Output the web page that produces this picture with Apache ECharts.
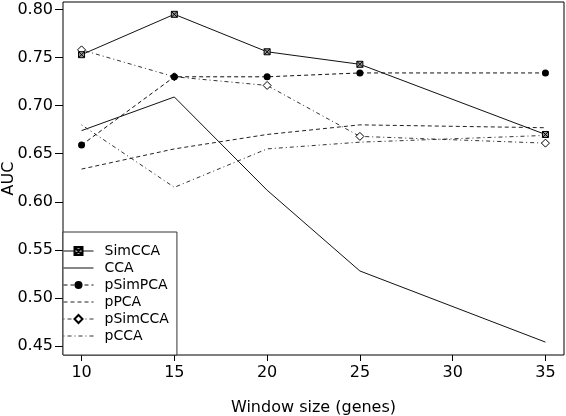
<!DOCTYPE html>
<html>
<head>
<meta charset="utf-8">
<script src="https://cdn.jsdelivr.net/npm/echarts@6/dist/echarts.min.js"></script>
<style>
html,body{margin:0;padding:0;background:#fff;}
#chart{width:566px;height:416px;}
</style>
</head>
<body>
<div id="chart"></div>
<script>
var windowSizes = [10, 15, 20, 25, 35];
var xTicks = [10, 15, 20, 25, 30, 35];
var yTicks = [0.45, 0.50, 0.55, 0.60, 0.65, 0.70, 0.75, 0.80];
var simCCA  = [0.753, 0.795, 0.756, 0.743, 0.670];
var cca     = [0.674, 0.709, 0.612, 0.528, 0.454];
var pSimPCA = [0.659, 0.730, 0.730, 0.734, 0.734];
var pPCA    = [0.634, 0.655, 0.670, 0.680, 0.677];
var pSimCCA = [0.758, 0.730, 0.721, 0.668, 0.661];
var pCCA    = [0.680, 0.615, 0.655, 0.662, 0.669];

function pairs(vals){ return vals.map(function(v,i){ return [windowSizes[i], v]; }); }

var FONT = 'DejaVu Sans';
var dotDash = [1, 3, 4, 3];
var dash = [4, 3];

var chart = echarts.init(document.getElementById('chart'), null, {renderer: 'canvas'});
chart.setOption({
  animation: false,
  backgroundColor: '#fff',
  grid: {left: 63, right: 2, top: 2, bottom: 61, containLabel: false, outerBoundsMode: 'none',
         show: true, borderColor: '#000', borderWidth: 1, backgroundColor: 'transparent'},
  xAxis: {
    type: 'value', min: 9, max: 36,
    name: 'Window size (genes)', nameLocation: 'middle', nameGap: 45, nameMoveOverlap: false,
    nameTextStyle: {fontFamily: FONT, fontSize: 16, color: '#000'},
    axisLine: {show: false},
    splitLine: {show: false},
    axisTick: {show: true, length: 6, lineStyle: {color: '#000'}, customValues: xTicks},
    axisLabel: {fontFamily: FONT, fontSize: 16, color: '#000', margin: 10, customValues: xTicks}
  },
  yAxis: {
    type: 'value', min: 0.4406, max: 0.8078,
    name: 'AUC', nameLocation: 'middle', nameGap: 46, nameMoveOverlap: false,
    nameTextStyle: {fontFamily: FONT, fontSize: 16, color: '#000'},
    axisLine: {show: false},
    splitLine: {show: false},
    axisTick: {show: true, length: 8, lineStyle: {color: '#000'}, customValues: yTicks},
    axisLabel: {fontFamily: FONT, fontSize: 16, color: '#000', margin: 10, customValues: yTicks,
      formatter: function(v){ return v.toFixed(2); }}
  },
  legend: {
    orient: 'vertical', left: 63, bottom: 61,
    padding: [12, 8, 12, 0],
    borderColor: '#333', borderWidth: 1, backgroundColor: '#fff',
    itemWidth: 30, itemHeight: 10, itemGap: 3,
    selectedMode: false,
    lineStyle: {width: 1},
    textStyle: {fontFamily: FONT, fontSize: 14, color: '#000', lineHeight: 14, padding: [0, 0, 0, 6]},
    data: [
      {name: 'SimCCA'},
      {name: 'CCA', itemStyle: {opacity: 0}},
      {name: 'pSimPCA'},
      {name: 'pPCA', itemStyle: {opacity: 0}},
      {name: 'pSimCCA'},
      {name: 'pCCA', itemStyle: {opacity: 0}}
    ]
  },
  series: [
    {name: 'SimCCA', type: 'line', data: pairs(simCCA), z: 4,
     symbol: 'path://M0,0L10,0L10,10L0,10Z M0,0L10,10 M10,0L0,10', symbolSize: 6,
     itemStyle: {color: '#999', borderColor: '#000', borderWidth: 1},
     lineStyle: {color: '#111', width: 1, type: 'solid'}},
    {name: 'CCA', type: 'line', data: pairs(cca), symbol: 'none', z: 2,
     itemStyle: {color: '#111'},
     lineStyle: {color: '#111', width: 1, type: 'solid'}},
    {name: 'pSimPCA', type: 'line', data: pairs(pSimPCA), z: 5,
     symbol: 'circle', symbolSize: 7,
     itemStyle: {color: '#000', borderColor: '#000', borderWidth: 0},
     lineStyle: {color: '#111', width: 1, type: dash}},
    {name: 'pPCA', type: 'line', data: pairs(pPCA), symbol: 'none', z: 2,
     itemStyle: {color: '#222'},
     lineStyle: {color: '#222', width: 1, type: dash}},
    {name: 'pSimCCA', type: 'line', data: pairs(pSimCCA), z: 3,
     symbol: 'diamond', symbolSize: 8,
     itemStyle: {color: '#fff', borderColor: '#000', borderWidth: 1},
     lineStyle: {color: '#333', width: 1, type: dotDash}},
    {name: 'pCCA', type: 'line', data: pairs(pCCA), symbol: 'none', z: 2,
     itemStyle: {color: '#333'},
     lineStyle: {color: '#333', width: 1, type: dotDash}}
  ]
});
</script>
</body>
</html>
